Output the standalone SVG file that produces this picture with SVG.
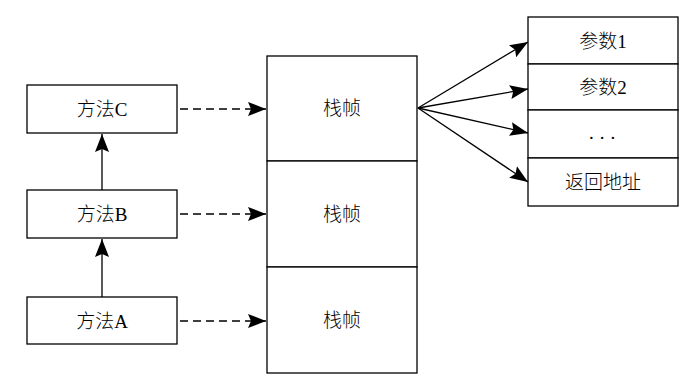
<svg xmlns="http://www.w3.org/2000/svg" width="689" height="387" viewBox="0 0 689 387">
<style>
.box{fill:#fff;stroke:#000;stroke-width:1.3}
.t{font-family:"Liberation Serif","Noto Sans CJK SC",serif;font-size:19px;font-weight:300;fill:#000;text-anchor:middle;dominant-baseline:central}
.ln{fill:none;stroke:#000;stroke-width:1.3}
.dash{stroke-dasharray:8,5}
</style>
<defs>
<marker id="big" markerWidth="18" markerHeight="14" viewBox="0 0 18 14" refX="18" refY="7" orient="auto" markerUnits="userSpaceOnUse">
<path d="M0,0 L18,7 L0,14 L3,7 Z" fill="#000"/>
</marker>
</defs>
<g id="methodC"><rect class="box" x="27" y="85" width="150" height="48"/><text class="t" x="102" y="109">方法C</text></g>
<g id="methodB"><rect class="box" x="27" y="190" width="150" height="48"/><text class="t" x="102" y="214">方法B</text></g>
<g id="methodA"><rect class="box" x="27" y="297" width="150" height="47"/><text class="t" x="102" y="321">方法A</text></g>
<g id="frame1"><rect class="box" x="267" y="56" width="150" height="105"/><text class="t" x="342" y="108">栈帧</text></g>
<g id="frame2"><rect class="box" x="267" y="161" width="150" height="106"/><text class="t" x="342" y="214">栈帧</text></g>
<g id="frame3"><rect class="box" x="267" y="267" width="150" height="106"/><text class="t" x="342" y="320">栈帧</text></g>
<g id="param1"><rect class="box" x="528" y="17" width="150" height="47"/><text class="t" x="603" y="41">参数1</text></g>
<g id="param2"><rect class="box" x="528" y="64" width="150" height="46"/><text class="t" x="603" y="87">参数2</text></g>
<g id="etc"><rect class="box" x="528" y="110" width="150" height="48"/><text class="t" x="605" y="132" letter-spacing="6">...</text></g>
<g id="ret"><rect class="box" x="528" y="158" width="150" height="48"/><text class="t" x="603" y="182">返回地址</text></g>
<g id="connectors">
<line class="ln dash" x1="180" y1="109" x2="266" y2="109" marker-end="url(#big)"/>
<line class="ln dash" x1="180" y1="214" x2="266" y2="214" marker-end="url(#big)"/>
<line class="ln dash" x1="180" y1="321" x2="266" y2="321" marker-end="url(#big)"/>
<line class="ln" x1="102" y1="190" x2="102" y2="134" marker-end="url(#big)"/>
<line class="ln" x1="102" y1="297" x2="102" y2="239" marker-end="url(#big)"/>
<line class="ln" x1="418" y1="108" x2="528" y2="42" marker-end="url(#big)"/>
<line class="ln" x1="418" y1="108" x2="528" y2="89" marker-end="url(#big)"/>
<line class="ln" x1="418" y1="108" x2="528" y2="133" marker-end="url(#big)"/>
<line class="ln" x1="418" y1="108" x2="528" y2="182" marker-end="url(#big)"/>
</g>
</svg>
